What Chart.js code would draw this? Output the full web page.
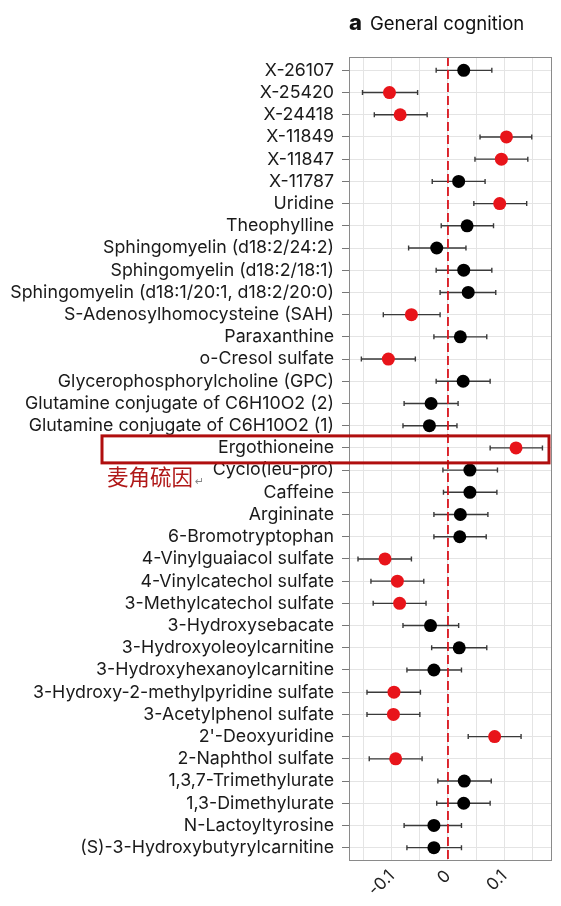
<!DOCTYPE html>
<html>
<head>
<meta charset="utf-8">
<script src="https://cdn.jsdelivr.net/npm/chart.js@4.4.1/dist/chart.umd.min.js"></script>
<style>
html, body { margin: 0; padding: 0; background: #fff; }
#wrap { position: relative; width: 561px; height: 906px; }
#title { position: absolute; left: 349px; top: 9px; font-family: Inter, 'Liberation Sans', sans-serif; font-size: 18.5px; color: #111; }
#title b { font-size: 22px; margin-right: 8px; font-weight: 800; }
</style>
</head>
<body>
<div id="wrap">
  <canvas id="c" width="561" height="906" style="width:561px;height:906px"></canvas>
  <div id="title"><b>a</b>General cognition</div>
</div>
<script>
// Metabolites, top to bottom
const metabolites = [
    'X-26107', 'X-25420', 'X-24418', 'X-11849', 'X-11847', 'X-11787',
    'Uridine', 'Theophylline', 'Sphingomyelin (d18:2/24:2)', 'Sphingomyelin (d18:2/18:1)',
    'Sphingomyelin (d18:1/20:1, d18:2/20:0)', 'S-Adenosylhomocysteine (SAH)', 'Paraxanthine',
    'o-Cresol sulfate', 'Glycerophosphorylcholine (GPC)', 'Glutamine conjugate of C6H10O2 (2)',
    'Glutamine conjugate of C6H10O2 (1)', 'Ergothioneine', 'Cyclo(leu-pro)', 'Caffeine',
    'Argininate', '6-Bromotryptophan', '4-Vinylguaiacol sulfate', '4-Vinylcatechol sulfate',
    '3-Methylcatechol sulfate', '3-Hydroxysebacate', '3-Hydroxyoleoylcarnitine',
    '3-Hydroxyhexanoylcarnitine', '3-Hydroxy-2-methylpyridine sulfate', '3-Acetylphenol sulfate',
    "2'-Deoxyuridine", '2-Naphthol sulfate', '1,3,7-Trimethylurate', '1,3-Dimethylurate',
    'N-Lactoyltyrosine', '(S)-3-Hydroxybutyrylcarnitine'
];
const estimates = [0.028, -0.104, -0.085, 0.104, 0.095, 0.019, 0.092, 0.034, -0.020, 0.028,
    0.036, -0.065, 0.022, -0.106, 0.027, -0.030, -0.033, 0.121, 0.039, 0.039,
    0.022, 0.021, -0.112, -0.090, -0.086, -0.031, 0.020, -0.025, -0.096, -0.097,
    0.083, -0.093, 0.029, 0.028, -0.025, -0.025];
const lower = [-0.021, -0.152, -0.131, 0.057, 0.048, -0.028, 0.046, -0.012, -0.070, -0.021,
    -0.014, -0.115, -0.025, -0.154, -0.021, -0.078, -0.080, 0.075, -0.009, -0.008,
    -0.025, -0.025, -0.160, -0.137, -0.133, -0.080, -0.029, -0.073, -0.144, -0.144,
    0.036, -0.140, -0.018, -0.020, -0.078, -0.073];
const upper = [0.078, -0.054, -0.037, 0.149, 0.142, 0.066, 0.140, 0.081, 0.032, 0.078,
    0.085, -0.014, 0.069, -0.058, 0.075, 0.018, 0.016, 0.168, 0.088, 0.087,
    0.071, 0.068, -0.065, -0.043, -0.039, 0.019, 0.069, 0.024, -0.049, -0.050,
    0.130, -0.046, 0.077, 0.075, 0.024, 0.024];
const xTickLabels = [-0.1, 0, 0.1];
const xGrid = [-0.15, -0.1, -0.05, 0, 0.05, 0.1, 0.15];
const highlightName = 'Ergothioneine';
const highlightNote = '麦角硫因';

const points = metabolites.map((m, i) => ({ x: estimates[i], y: i }));
const colors = metabolites.map((m, i) => (lower[i] > 0 || upper[i] < 0) ? '#e8141a' : '#000000');

// error bars + zero line, drawn under the points
const errorBars = {
    id: 'errorBars',
    beforeDatasetsDraw(chart) {
        const { ctx, scales: { x, y }, chartArea } = chart;
        ctx.save();
        ctx.strokeStyle = '#3a3a3a';
        ctx.lineWidth = 1.4;
        metabolites.forEach((m, i) => {
            const py = y.getPixelForValue(i);
            const x0 = x.getPixelForValue(lower[i]);
            const x1 = x.getPixelForValue(upper[i]);
            ctx.beginPath();
            ctx.moveTo(x0, py); ctx.lineTo(x1, py);
            ctx.moveTo(x0, py - 2.5); ctx.lineTo(x0, py + 2.5);
            ctx.moveTo(x1, py - 2.5); ctx.lineTo(x1, py + 2.5);
            ctx.stroke();
        });
        // dashed line at zero
        const zx = x.getPixelForValue(0);
        ctx.strokeStyle = '#d9141c';
        ctx.lineWidth = 1.8;
        ctx.setLineDash([9, 4]);
        ctx.beginPath();
        ctx.moveTo(zx, chartArea.top); ctx.lineTo(zx, chartArea.bottom);
        ctx.stroke();
        ctx.restore();
    }
};

// panel frame and highlight box
const decor = {
    id: 'decor',
    afterDraw(chart) {
        const { ctx, scales: { y }, chartArea } = chart;
        ctx.save();
        ctx.strokeStyle = '#8a8a8a';
        ctx.lineWidth = 1;
        ctx.strokeRect(chartArea.left + 0.5, chartArea.top + 0.5,
            chartArea.right - chartArea.left - 1, chartArea.bottom - chartArea.top - 1);

        const hy = y.getPixelForValue(metabolites.indexOf(highlightName));
        ctx.strokeStyle = '#b00e0e';
        ctx.lineWidth = 3;
        ctx.strokeRect(102, hy - 12, 447, 27);

        ctx.fillStyle = '#b01818';
        ctx.font = '21.5px "Noto Sans CJK SC"';
        ctx.textBaseline = 'middle';
        ctx.fillText(highlightNote, 107, hy + 29);
        ctx.fillStyle = '#888';
        ctx.font = '11px "DejaVu Sans"';
        ctx.fillText('↵', 195, hy + 34);
        ctx.restore();
    }
};

new Chart(document.getElementById('c'), {
    type: 'scatter',
    data: {
        datasets: [{
            data: points,
            pointRadius: 6.5,
            pointHoverRadius: 6.5,
            pointBackgroundColor: colors,
            pointBorderColor: colors,
            pointBorderWidth: 0
        }]
    },
    options: {
        responsive: false,
        animation: false,
        layout: { padding: { top: 57, right: 9, bottom: 4, left: 0 } },
        plugins: { legend: { display: false }, tooltip: { enabled: false } },
        scales: {
            x: {
                type: 'linear',
                min: -0.176,
                max: 0.185,
                afterBuildTicks: (scale) => { scale.ticks = xGrid.map(v => ({ value: v })); },
                afterFit: (scale) => { scale.height = 41; },
                ticks: {
                    autoSkip: false,
                    minRotation: 45,
                    maxRotation: 45,
                    padding: 5,
                    color: '#222',
                    font: { family: 'Inter, "Liberation Sans", sans-serif', size: 17 },
                    callback: (v) => xTickLabels.some(t => Math.abs(t - v) < 1e-9) ? String(+v.toFixed(2)) : ''
                },
                grid: { color: '#e4e4e4', drawTicks: false },
                border: { display: false }
            },
            y: {
                type: 'linear',
                reverse: true,
                min: -0.6,
                max: 35.6,
                afterBuildTicks: (scale) => { scale.ticks = metabolites.map((m, i) => ({ value: i })); },
                afterFit: (scale) => { scale.width = 349; },
                ticks: {
                    autoSkip: false,
                    padding: 8,
                    color: '#1a1a1a',
                    font: { family: 'Inter, "Liberation Sans", sans-serif', size: 17.8 },
                    callback: (v) => metabolites[v]
                },
                grid: { color: '#e4e4e4', tickColor: '#777', tickLength: 7 },
                border: { display: false }
            }
        }
    },
    plugins: [errorBars, decor]
});
</script>
</body>
</html>
